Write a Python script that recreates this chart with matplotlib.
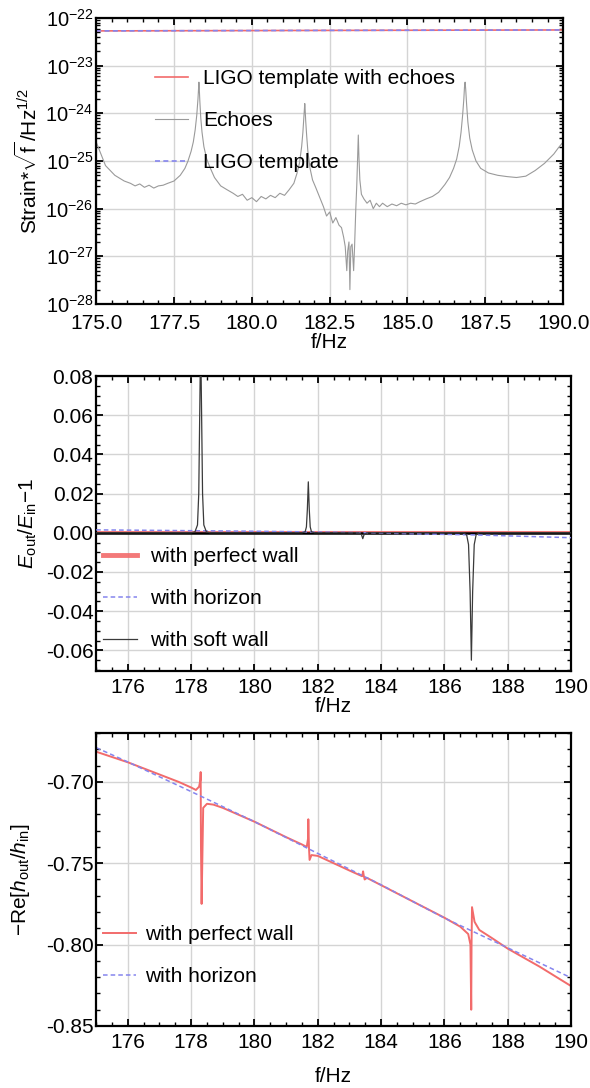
import numpy as np
import matplotlib
matplotlib.use("Agg")
import matplotlib.pyplot as plt
from matplotlib.ticker import MultipleLocator, LogLocator, FixedLocator, NullFormatter, FormatStrFormatter

plt.rcParams['font.family'] = ['Liberation Sans', 'DejaVu Sans']
plt.rcParams['mathtext.fontset'] = 'custom'
plt.rcParams['mathtext.rm'] = 'Liberation Sans'
plt.rcParams['mathtext.it'] = 'Liberation Sans:italic'
plt.rcParams['mathtext.default'] = 'regular'
plt.rcParams['axes.unicode_minus'] = True

FS = 15

# ---- panel 1: strain spectrum ----
ligo_f = [175.0, 182.5, 190.0]
ligo_s = [5.35e-23, 5.48e-23, 5.6e-23]

echo_f = [175.0, 175.3, 175.6, 175.9, 176.1, 176.25, 176.4, 176.55, 176.7, 176.85, 177.0, 177.15,
          177.3, 177.5, 177.7, 177.85, 177.95, 178.05, 178.12, 178.18, 178.23, 178.27,
          178.29, 178.3, 178.31, 178.33, 178.36, 178.4, 178.46, 178.55, 178.65, 178.8,
          179.0, 179.2, 179.4, 179.55, 179.7, 179.85, 180.0, 180.15, 180.3, 180.45,
          180.6, 180.75, 180.9, 181.05, 181.2, 181.35, 181.45, 181.53, 181.6, 181.64,
          181.67, 181.69, 181.7, 181.71, 181.73, 181.76, 181.8, 181.87, 181.95, 182.05,
          182.2, 182.3, 182.4, 182.5, 182.6, 182.7, 182.8, 182.88, 182.95, 183.0,
          183.05, 183.08, 183.12, 183.15, 183.18, 183.22, 183.27, 183.3, 183.34, 183.37,
          183.4, 183.42, 183.44, 183.47, 183.52, 183.6, 183.7, 183.8, 183.9, 184.0,
          184.1, 184.2, 184.35, 184.5, 184.65, 184.8, 184.95, 185.1, 185.25, 185.4,
          185.6, 185.8, 186.0, 186.2, 186.35, 186.48, 186.58, 186.66, 186.72, 186.77,
          186.81, 186.83, 186.85, 186.87, 186.9, 186.94, 187.0, 187.08, 187.2, 187.35,
          187.6, 187.9, 188.2, 188.5, 188.8, 189.1, 189.4, 189.7, 189.85, 190.0]
echo_s = [2.5e-25, 8.0e-26, 5.0e-26, 3.8e-26, 3.4e-26, 3.0e-26, 3.3e-26, 2.8e-26, 3.1e-26, 2.7e-26, 3.0e-26, 3.1e-26,
          3.4e-26, 3.8e-26, 5.0e-26, 7.0e-26, 1.0e-25, 1.6e-25, 2.5e-25, 4.5e-25, 9.0e-25, 2.0e-24,
          3.5e-24, 4.5e-24, 3.5e-24, 1.8e-24, 8.0e-25, 4.0e-25, 2.0e-25, 1.1e-25, 7.5e-26, 4.5e-26,
          3.0e-26, 2.5e-26, 2.1e-26, 1.8e-26, 2.0e-26, 1.5e-26, 1.7e-26, 1.4e-26, 1.8e-26, 1.6e-26,
          1.9e-26, 1.7e-26, 2.1e-26, 1.9e-26, 2.5e-26, 3.4e-26, 5.5e-26, 9.0e-26, 2.0e-25, 4.0e-25,
          8.0e-25, 1.3e-24, 1.6e-24, 1.3e-24, 7.0e-25, 3.5e-25, 1.6e-25, 7.0e-26, 4.0e-26, 2.8e-26,
          1.6e-26, 1.1e-26, 7.0e-27, 8.5e-27, 5.0e-27, 6.5e-27, 4.5e-27, 4.0e-27, 2.5e-27, 1.6e-27,
          5.0e-28, 1.3e-27, 2.0e-27, 2.0e-28, 1.6e-27, 1.8e-27, 5.0e-28, 1.6e-27, 1.0e-26, 3.0e-26,
          1.2e-25, 3.5e-25, 1.2e-25, 4.0e-26, 2.0e-26, 1.6e-26, 1.3e-26, 1.5e-26, 1.0e-26, 1.3e-26,
          1.1e-26, 1.3e-26, 1.1e-26, 1.25e-26, 1.15e-26, 1.3e-26, 1.2e-26, 1.3e-26, 1.25e-26, 1.4e-26,
          1.6e-26, 1.8e-26, 2.2e-26, 3.2e-26, 4.5e-26, 7.0e-26, 1.1e-25, 2.0e-25, 4.0e-25, 9.0e-25,
          2.0e-24, 3.5e-24, 4.5e-24, 3.2e-24, 1.5e-24, 6.5e-25, 3.0e-25, 1.7e-25, 1.0e-25, 7.0e-26,
          5.6e-26, 5.0e-26, 4.7e-26, 4.5e-26, 4.8e-26, 6.3e-26, 8.9e-26, 1.4e-25, 1.9e-25, 2.5e-25]

# ---- panel 2: energy ratio ----
wall_f = [175.0, 190.0]
wall_e = [0.0002, 0.0002]
hor_f = [175.0, 180.0, 183.0, 185.0, 187.0, 190.0]
hor_e = [0.0015, 0.0008, 0.0002, -0.0005, -0.0011, -0.0025]
soft_f = [175.0, 178.0, 178.12, 178.2, 178.24, 178.27, 178.3, 178.33, 178.36, 178.4, 178.48, 178.6,
          181.5, 181.6, 181.64, 181.67, 181.7, 181.73, 181.76, 181.8, 181.9,
          183.3, 183.38, 183.42, 183.46, 183.55,
          186.6, 186.7, 186.76, 186.81, 186.85, 186.89, 186.94, 187.0, 187.1, 190.0]
soft_e = [0.0, 0.0, 0.0005, 0.004, 0.02, 0.06, 0.1, 0.06, 0.02, 0.004, 0.0005, 0.0,
          0.0, 0.0005, 0.003, 0.012, 0.026, 0.012, 0.003, 0.0005, 0.0,
          0.0, -0.001, -0.003, -0.001, 0.0,
          0.0, -0.001, -0.006, -0.03, -0.065, -0.03, -0.006, -0.001, 0.0, 0.0]

# ---- panel 3: -Re[h_out/h_in] ----
hz_f = [175.0, 176.0, 178.0, 180.0, 182.0, 184.0, 186.0, 188.0, 190.0]
hz_r = [-0.679, -0.6878, -0.706, -0.7245, -0.744, -0.7633, -0.7837, -0.802, -0.8204]
pw_f = [175.0, 176.0, 177.0, 177.6, 178.0, 178.15, 178.25, 178.29, 178.3, 178.31, 178.33, 178.38,
        178.5, 178.7, 179.0, 180.0, 181.0, 181.5, 181.65, 181.69, 181.7, 181.72, 181.74, 181.8,
        182.0, 183.0, 183.4, 183.43, 183.45, 183.48, 183.55, 184.0, 185.0, 186.0, 186.5, 186.75,
        186.82, 186.845, 186.855, 186.87, 186.95, 187.1, 187.5, 188.0, 189.0, 190.0]
pw_r = [-0.6815, -0.688, -0.6955, -0.700, -0.7035, -0.705, -0.703, -0.699, -0.694, -0.740, -0.775, -0.716,
        -0.7135, -0.714, -0.7160, -0.7245, -0.734, -0.7385, -0.740, -0.735, -0.723, -0.740, -0.748, -0.745,
        -0.7455, -0.7545, -0.758, -0.755, -0.7575, -0.760, -0.759, -0.7635, -0.7735, -0.7835, -0.789, -0.7935,
        -0.800, -0.840, -0.800, -0.777, -0.786, -0.791, -0.796, -0.8025, -0.8135, -0.8255]

red = '#f26b6b'
blue = '#8585ee'
grid_c = '#d4d4d4'

fig = plt.figure(figsize=(5.9, 10.88), dpi=100)
ax1 = fig.add_axes([0.163, 0.7206, 0.7915, 0.2629])
ax2 = fig.add_axes([0.163, 0.3833, 0.805, 0.2711])
ax3 = fig.add_axes([0.163, 0.0570, 0.805, 0.2693])


def style(ax, xpad=5):
    for sp in ax.spines.values():
        sp.set_linewidth(1.6)
    ax.tick_params(which='both', direction='in', top=True, right=True, labelsize=FS, pad=2)
    ax.tick_params(axis='x', which='both', pad=xpad)
    ax.tick_params(which='major', length=5, width=1.3)
    ax.tick_params(which='minor', length=3, width=1.0)
    ax.grid(True, which='major', color=grid_c, lw=1.0)
    ax.set_axisbelow(True)


# panel 1
ax1.plot(ligo_f, ligo_s, color=red, lw=1.2, label='LIGO template with echoes')
ax1.plot(echo_f, echo_s, color='#9a9a9a', lw=0.8, label='Echoes')
ax1.plot(ligo_f, ligo_s, color=blue, lw=1.2, ls=(0, (3, 2)), label='LIGO template')
ax1.set_yscale('log')
ax1.set_xlim(175, 190)
ax1.set_ylim(1e-28, 1e-22)
ax1.xaxis.set_major_locator(MultipleLocator(2.5))
ax1.xaxis.set_minor_locator(MultipleLocator(0.5))
ax1.xaxis.set_major_formatter(FormatStrFormatter('%.1f'))
ax1.yaxis.set_major_locator(LogLocator(base=10, numticks=10))
ax1.yaxis.set_minor_locator(LogLocator(base=10, subs=np.arange(2, 10), numticks=20))
ax1.yaxis.set_minor_formatter(NullFormatter())
style(ax1, xpad=7)
ax1.tick_params(axis='y', labelsize=14.5)
ax1.set_xlabel('f/Hz', fontsize=FS, labelpad=0)
ax1.set_ylabel(r'Strain*$\sqrt{f}\,$/Hz$^{1/2}$', fontsize=FS, labelpad=3)
ax1.legend(loc='upper left', bbox_to_anchor=(0.126, 0.82), frameon=False, fontsize=FS,
           borderpad=0, borderaxespad=0, handlelength=1.6, handletextpad=0.7, labelspacing=1.1)

# panel 2
ax2.plot(wall_f, wall_e, color=red, lw=2.2, alpha=0.9, zorder=1, label='with perfect wall')
ax2.axhline(0, color='black', lw=1.8, zorder=2)
ax2.plot(hor_f, hor_e, color=blue, lw=1.1, ls=(0, (3, 2)), zorder=3, label='with horizon')
ax2.plot(soft_f, soft_e, color='#3a3a3a', lw=0.9, zorder=4, label='with soft wall')
ax2.set_xlim(175, 190)
ax2.set_ylim(-0.0705, 0.08)
ax2.xaxis.set_major_locator(MultipleLocator(2))
ax2.xaxis.set_minor_locator(MultipleLocator(0.5))
ax2.yaxis.set_major_locator(MultipleLocator(0.02))
ax2.yaxis.set_minor_locator(MultipleLocator(0.005))
ax2.yaxis.set_major_formatter(FormatStrFormatter('%.2f'))
style(ax2)
ax2.set_xlabel('f/Hz', fontsize=FS, labelpad=0)
ax2.set_ylabel(r'$\mathit{E}_{\rm out}/\mathit{E}_{\rm in}$$-$1', fontsize=FS, labelpad=5)
leg2 = ax2.legend(loc='upper left', bbox_to_anchor=(0.015, 0.42), frameon=False, fontsize=FS,
                  borderpad=0, borderaxespad=0, handlelength=1.6, handletextpad=0.65, labelspacing=1.1)
leg2.legend_handles[0].set_linewidth(3.5)

# panel 3
ax3.plot(pw_f, pw_r, color=red, lw=1.4, label='with perfect wall')
ax3.plot(hz_f, hz_r, color=blue, lw=1.1, ls=(0, (3, 2)), label='with horizon')
ax3.set_xlim(175, 190)
ax3.set_ylim(-0.85, -0.67)
ax3.xaxis.set_major_locator(MultipleLocator(2))
ax3.xaxis.set_minor_locator(MultipleLocator(0.5))
ax3.yaxis.set_major_locator(FixedLocator([-0.85, -0.80, -0.75, -0.70]))
ax3.yaxis.set_minor_locator(MultipleLocator(0.01))
ax3.yaxis.set_major_formatter(FormatStrFormatter('%.2f'))
style(ax3)
ax3.set_xlabel('f/Hz', fontsize=FS, labelpad=11)
ax3.set_ylabel(r'$-$Re[$\mathit{h}_{\rm out}/\mathit{h}_{\rm in}$]', fontsize=FS, labelpad=10)
ax3.legend(loc='upper left', bbox_to_anchor=(0.015, 0.345), frameon=False, fontsize=FS,
           borderpad=0, borderaxespad=0, handlelength=1.55, handletextpad=0.45, labelspacing=1.1)

fig.savefig('out.png', dpi=100)
